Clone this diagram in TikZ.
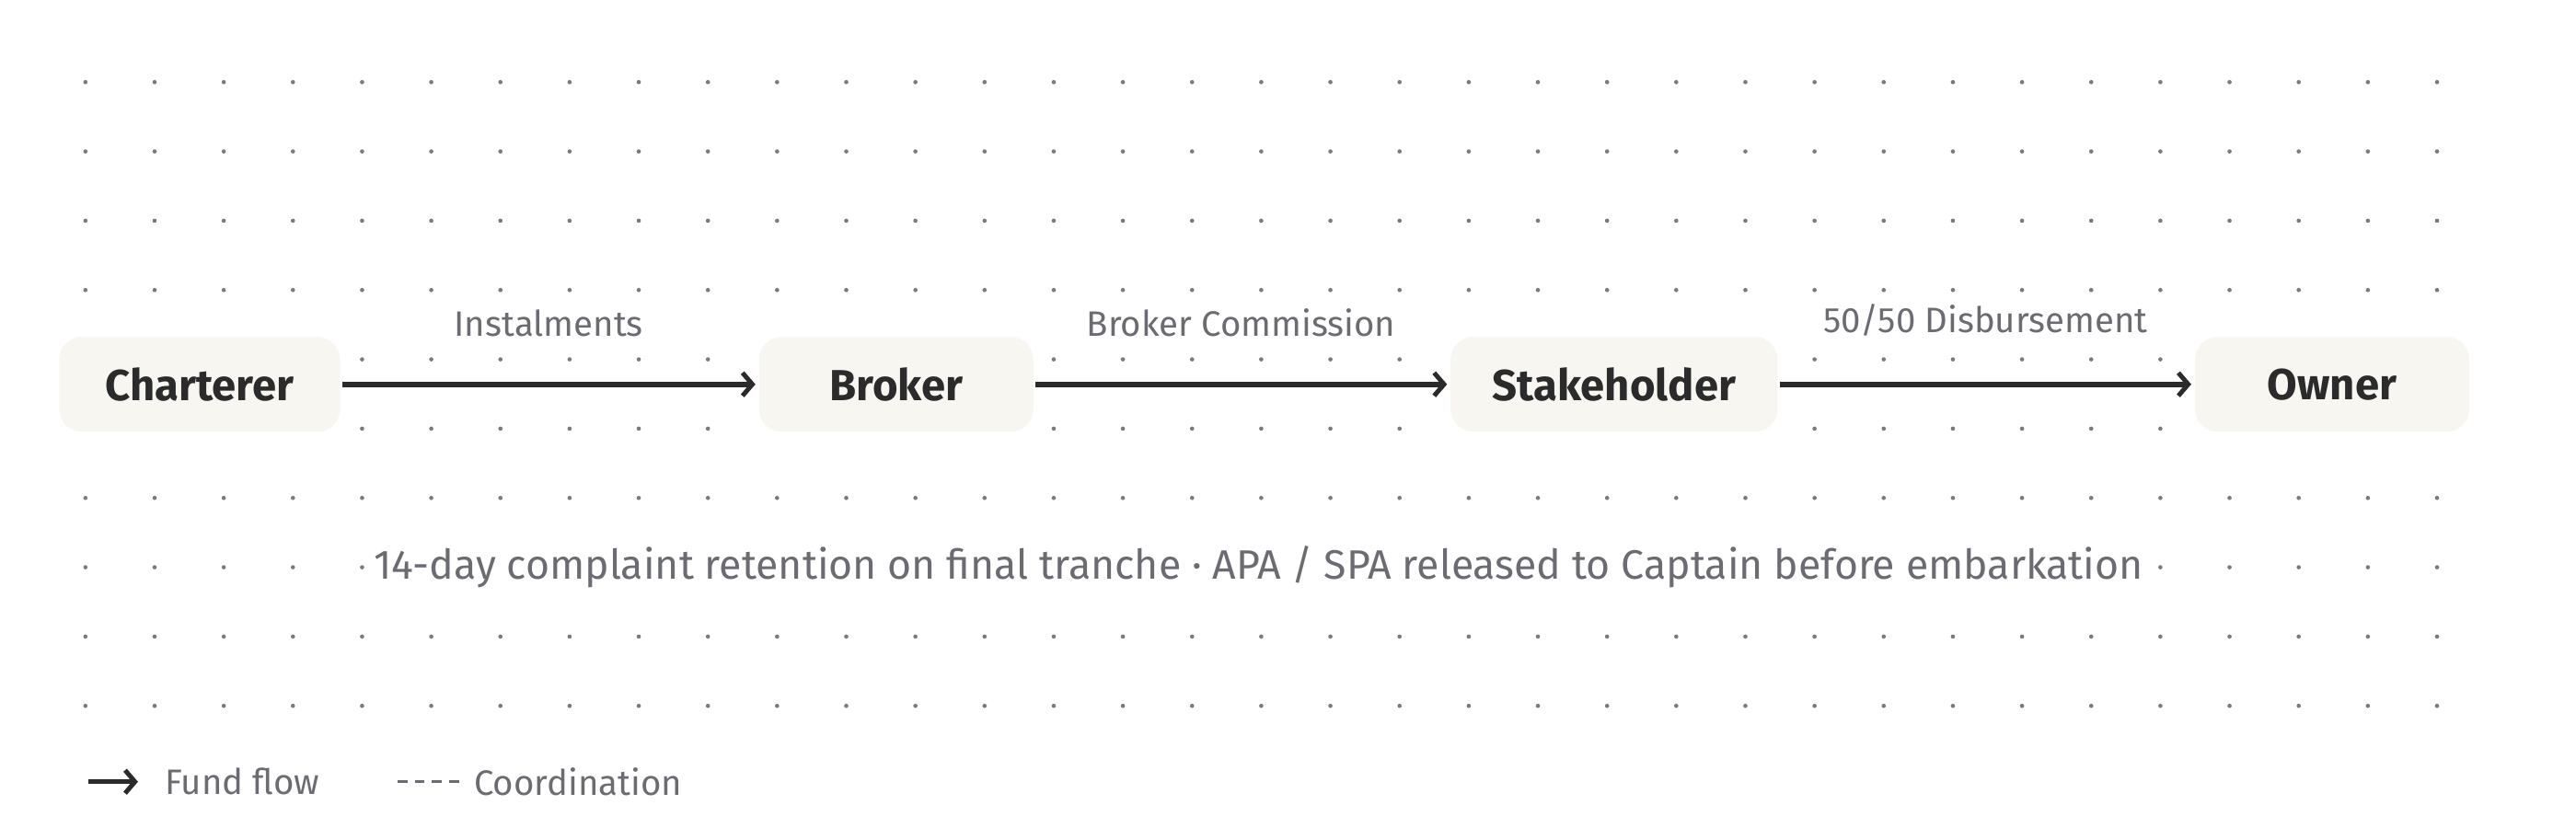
\documentclass[tikz,border=0pt]{standalone}
\usepackage{fontspec}
\setmainfont{Fira Sans}
\usetikzlibrary{arrows.meta}
\definecolor{boxfill}{HTML}{F8F6F1}
\definecolor{ink}{HTML}{2B2B2B}
\definecolor{muted}{HTML}{6B6B72}
\definecolor{dotc}{HTML}{7A7A80}
\begin{document}
\begin{tikzpicture}[x=1pt,y=-1pt,
  box/.style={fill=boxfill,rounded corners=14pt,minimum height=58pt,inner sep=0pt,font=\fontsize{26.5}{30}\selectfont\bfseries,text=ink},
  flow/.style={draw=ink,line width=3.4pt,-{Straight Barb[length=6pt,width=14pt,line width=2.8pt]}},
  lbl/.style={font=\fontsize{21.5}{25}\selectfont,text=muted,above=24pt}]
\useasboundingbox (0,0) rectangle (1568,504);
\foreach \i in {0,...,34}{\foreach \j in {0,...,9}{
  \fill[dotc] (52+42.1*\i,50+42.2*\j) circle (1.3pt);}}
\node[box,minimum width=171pt] (ch) at (121.5,234) {Charterer};
\node[box,minimum width=167pt] (br) at (545.5,234) {Broker};
\node[box,minimum width=199pt] (st) at (982.5,234) {Stakeholder};
\node[box,minimum width=167pt] (ow) at (1419.5,234) {Owner};
\draw[flow] ([xshift=1pt]ch.east) -- ([xshift=-2pt]br.west) node[midway,lbl]{Instalments};
\draw[flow] ([xshift=1pt]br.east) -- ([xshift=-2pt]st.west) node[midway,lbl]{Broker Commission};
\draw[flow] ([xshift=1pt]st.east) -- ([xshift=-2pt]ow.west) node[midway,lbl]{50/50 Disbursement};
\node[fill=white,inner sep=5pt,font=\fontsize{25}{28}\selectfont,text=muted] (note) at (766,345) {14-day complaint retention on final tranche · APA / SPA released to Captain before embarkation};
\coordinate (l1) at (54,476); \coordinate (l2) at (84,476);
\draw[flow,line width=3pt] (l1) -- (l2);
\node[anchor=west,font=\fontsize{21.5}{25}\selectfont,text=muted] (ff) at (97,476) {Fund flow};
\coordinate (l3) at (242,476); \coordinate (l4) at (280,476);
\draw[muted,line width=1.8pt,dash pattern=on 6pt off 4.5pt] (l3) -- (l4);
\node[anchor=west,font=\fontsize{21.5}{25}\selectfont,text=muted] (co) at (285,476) {Coordination};
\end{tikzpicture}
\end{document}
